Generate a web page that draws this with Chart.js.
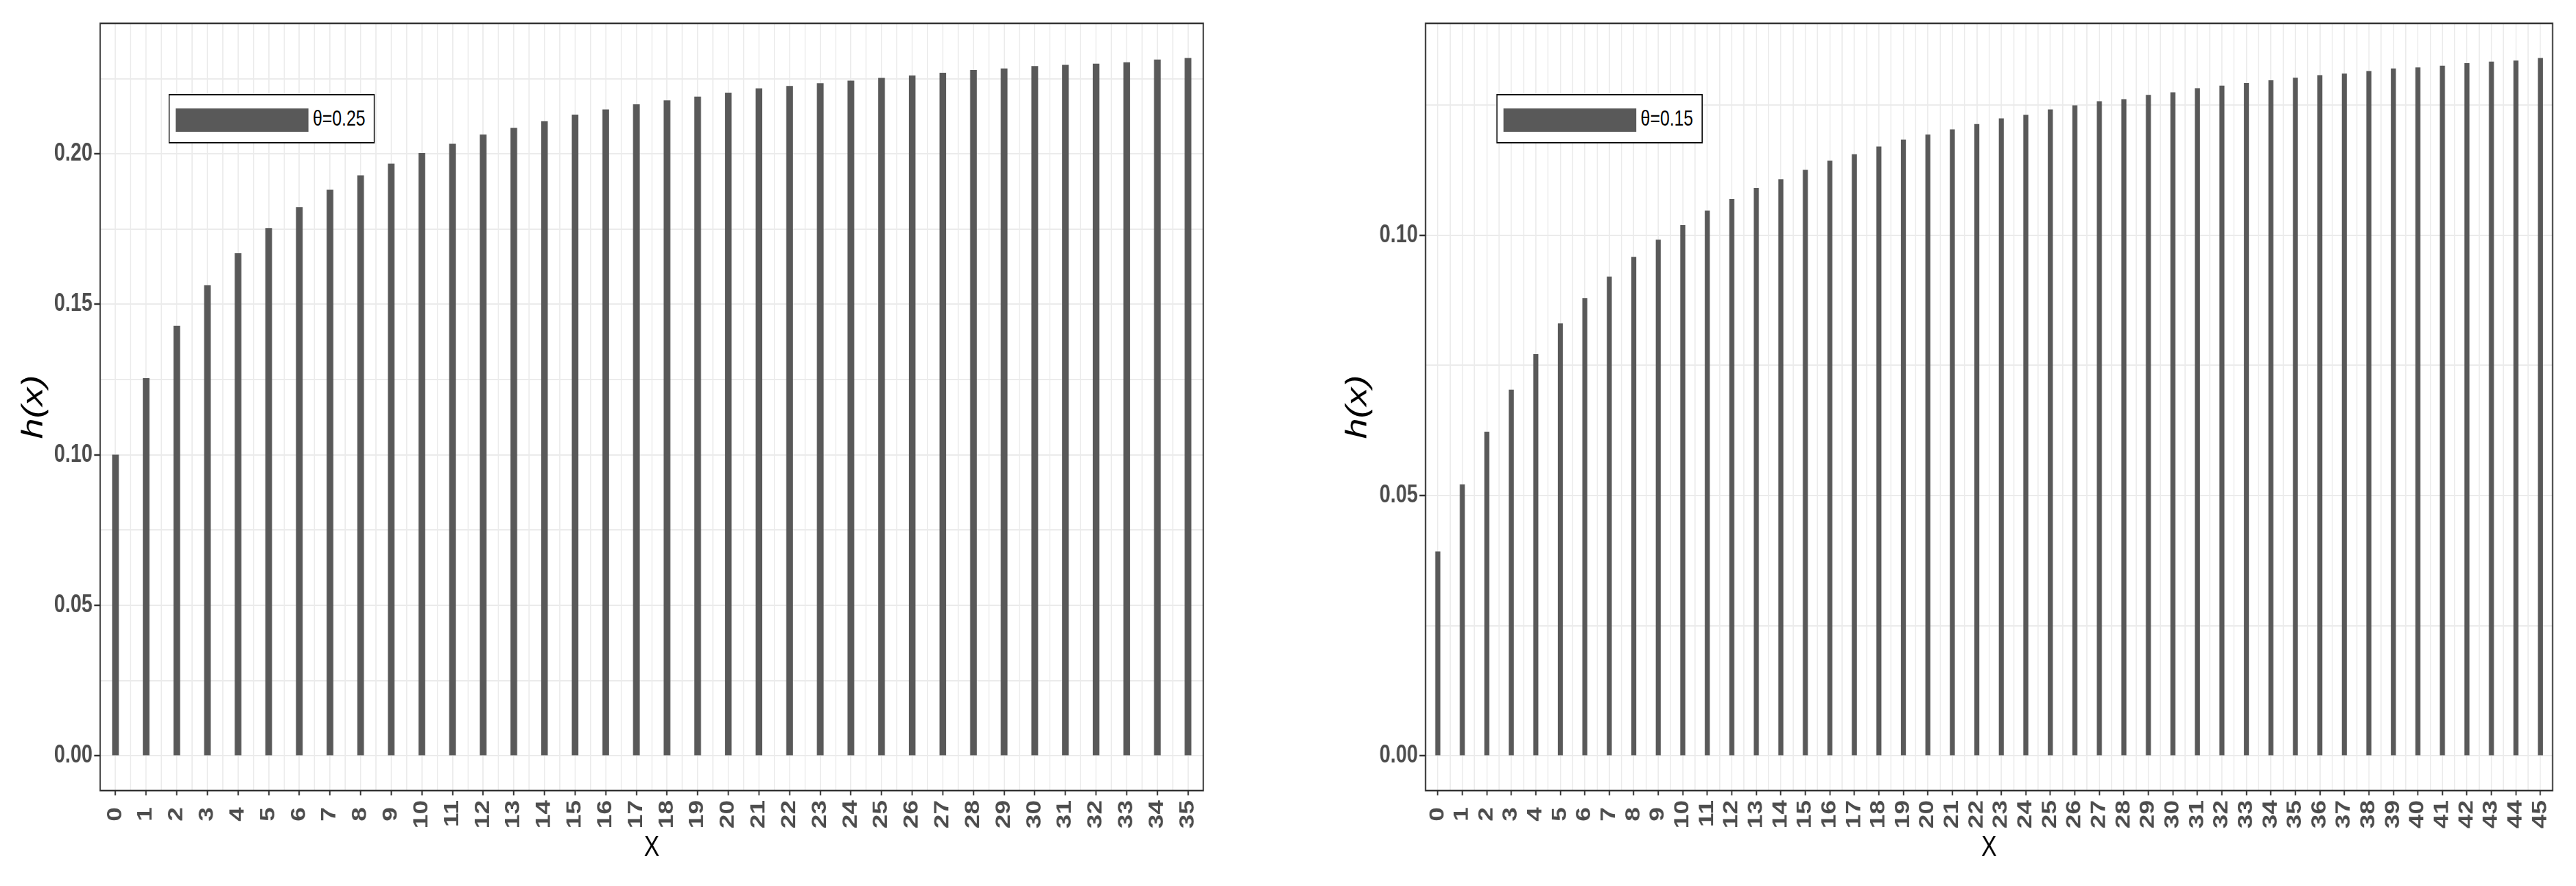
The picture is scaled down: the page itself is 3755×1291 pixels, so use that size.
<!DOCTYPE html>
<html>
<head>
<meta charset="utf-8">
<title>h(x)</title>
<script src="https://cdn.jsdelivr.net/npm/chart.js@4.4.1/dist/chart.umd.min.js"></script>
<style>
  html, body { margin: 0; padding: 0; background: #fff; width: 3755px; height: 1291px; overflow: hidden; }
  /* the source picture is squeezed horizontally, so each panel is drawn wide and scaled down */
  .panel { position: absolute; top: 0; height: 1291px; transform: scaleX(0.8); transform-origin: 0 0; }
  .panel canvas { position: absolute; left: 0; top: 0; }
  .legend { position: absolute; top: 137px; width: 376px; height: 72px; border: 2px solid #000; box-sizing: border-box; background: #fff; }
  .legend .key { position: absolute; left: 11px; top: 19px; width: 242px; height: 34px; background: #595959; }
  .legend .txt { position: absolute; left: 261px; top: 0; line-height: 68px; font-size: 31px; font-family: 'Liberation Sans', Arial, sans-serif; color: #000; }
</style>
</head>
<body>
<div class="panel" id="panel-left" style="left:0px; width:2250px;">
  <canvas id="chart-left" width="2250" height="1291"></canvas>
  <div class="legend" style="left:307px;"><div class="key"></div><div class="txt" id="legend-left"></div></div>
</div>
<div class="panel" id="panel-right" style="left:1830px; width:2406px;">
  <canvas id="chart-right" width="2406" height="1291"></canvas>
  <div class="legend" style="left:439px;"><div class="key"></div><div class="txt" id="legend-right"></div></div>
</div>
<script>
// left panel, theta = 0.25
const labelLeft = 'θ=0.25';
const xLeft = [0, 1, 2, 3, 4, 5, 6, 7, 8, 9, 10, 11, 12, 13, 14, 15, 16, 17,
               18, 19, 20, 21, 22, 23, 24, 25, 26, 27, 28, 29, 30, 31, 32, 33, 34, 35];
const hLeft = [0.1000, 0.1254, 0.1428, 0.1563, 0.1669, 0.1753, 0.1822, 0.1880, 0.1928,
               0.1967, 0.2002, 0.2033, 0.2064, 0.2086, 0.2108, 0.2130, 0.2147, 0.2164,
               0.2177, 0.2190, 0.2203, 0.2217, 0.2225, 0.2234, 0.2243, 0.2252, 0.2260,
               0.2269, 0.2278, 0.2283, 0.2291, 0.2295, 0.2299, 0.2304, 0.2313, 0.2318];
const yTicksLeft = [0.00, 0.05, 0.10, 0.15, 0.20];

// right panel, theta = 0.15
const labelRight = 'θ=0.15';
const xRight = [0, 1, 2, 3, 4, 5, 6, 7, 8, 9, 10, 11, 12, 13, 14, 15, 16, 17, 18, 19, 20, 21, 22,
                23, 24, 25, 26, 27, 28, 29, 30, 31, 32, 33, 34, 35, 36, 37, 38, 39, 40, 41, 42, 43, 44, 45];
const hRight = [0.0392, 0.0521, 0.0622, 0.0703, 0.0771, 0.0830, 0.0879, 0.0920, 0.0958, 0.0991,
                0.1019, 0.1047, 0.1069, 0.1090, 0.1107, 0.1125, 0.1143, 0.1155, 0.1170, 0.1183,
                0.1193, 0.1203, 0.1213, 0.1224, 0.1231, 0.1241, 0.1249, 0.1257, 0.1261, 0.1269,
                0.1274, 0.1282, 0.1287, 0.1292, 0.1297, 0.1302, 0.1307, 0.1310, 0.1315, 0.1320,
                0.1322, 0.1325, 0.1330, 0.1333, 0.1335, 0.1340];
const yTicksRight = [0.00, 0.05, 0.10];

const FONT = "'Liberation Sans', Arial, sans-serif";
const GRID = '#EBEBEB';
const AXIS = '#333333';
const NONE = 'rgba(0,0,0,0)';

Chart.defaults.font.family = FONT;

// ggplot style panel border around the plotting area
const panelBorder = {
    id: 'panelBorder',
    afterDraw(chart) {
        const { ctx, chartArea: a } = chart;
        ctx.save();
        ctx.strokeStyle = AXIS;
        ctx.lineWidth = 2.5;
        ctx.strokeRect(a.left, a.top, a.right - a.left, a.bottom - a.top);
        ctx.restore();
    }
};

function isTick(list, v) {
    return list.some(t => Math.abs(t - v) < 1e-9);
}

function makeChart(id, xs, hs, label, yTicks, geo) {
    const ctx = document.getElementById(id).getContext('2d');
    return new Chart(ctx, {
        type: 'bar',
        data: {
            datasets: [{
                label: label,
                data: xs.map((x, i) => ({ x: x, y: hs[i] })),
                backgroundColor: '#595959',
                borderWidth: 0,
                barThickness: geo.barW
            }]
        },
        options: {
            responsive: false,
            maintainAspectRatio: false,
            devicePixelRatio: 1,
            animation: false,
            events: [],
            layout: { padding: { left: 0, right: geo.padRight, top: 34, bottom: 0 } },
            plugins: {
                legend: { display: false },
                tooltip: { enabled: false }
            },
            scales: {
                x: {
                    type: 'linear',
                    min: xs[0] - 0.5,
                    max: xs[xs.length - 1] + 0.5,
                    offset: false,
                    afterFit: (s) => { s.height = 139; s.paddingLeft = 0; s.paddingRight = 0; },
                    border: { display: false },
                    grid: {
                        offset: false,
                        color: GRID,
                        lineWidth: 2,
                        tickLength: 7,
                        tickWidth: 2.5,
                        tickColor: (c) => (c.tick && xs.includes(c.tick.value)) ? AXIS : NONE
                    },
                    ticks: {
                        stepSize: 0.5,
                        includeBounds: false,
                        autoSkip: false,
                        minRotation: 90,
                        maxRotation: 90,
                        padding: 7,
                        color: '#4D4D4D',
                        font: { size: 37, weight: 'bold' },
                        // a trailing space keeps one-digit labels centred like the two-digit ones
                        callback: (v) => xs.includes(v) ? (v < 10 ? v + ' ' : String(v)) : ''
                    },
                    title: {
                        display: true,
                        text: 'X',
                        color: '#000',
                        font: { size: 42 },
                        padding: { top: 0, bottom: 30 }
                    }
                },
                y: {
                    min: geo.yMin,
                    max: geo.yMax,
                    afterFit: (s) => { s.width = geo.axisW; s.paddingTop = 0; s.paddingBottom = 0; },
                    border: { display: false },
                    grid: {
                        color: GRID,
                        lineWidth: 2,
                        tickLength: 11,
                        tickWidth: 2.5,
                        tickColor: (c) => (c.tick && isTick(yTicks, c.tick.value)) ? AXIS : NONE
                    },
                    ticks: {
                        stepSize: 0.025,
                        includeBounds: false,
                        padding: 3,
                        color: '#4D4D4D',
                        font: { size: 36, weight: 'bold' },
                        callback: (v) => isTick(yTicks, v) ? v.toFixed(2) : ''
                    },
                    title: {
                        display: true,
                        text: 'h(x)',
                        color: '#000',
                        font: { size: 54, style: 'italic' },
                        padding: { top: geo.titlePad, bottom: 0 }
                    }
                }
            }
        },
        plugins: [panelBorder]
    });
}

makeChart('chart-left', xLeft, hLeft, labelLeft, yTicksLeft, {
    axisW: 182.5, padRight: 57.5, titlePad: 30, barW: 11.5, yMin: -0.0116, yMax: 0.2434
});
makeChart('chart-right', xRight, hRight, labelRight, yTicksRight, {
    axisW: 310, padRight: 42.25, titlePad: 155, barW: 8.5, yMin: -0.0067, yMax: 0.1407
});

document.getElementById('legend-left').textContent = labelLeft;
document.getElementById('legend-right').textContent = labelRight;
</script>
</body>
</html>
